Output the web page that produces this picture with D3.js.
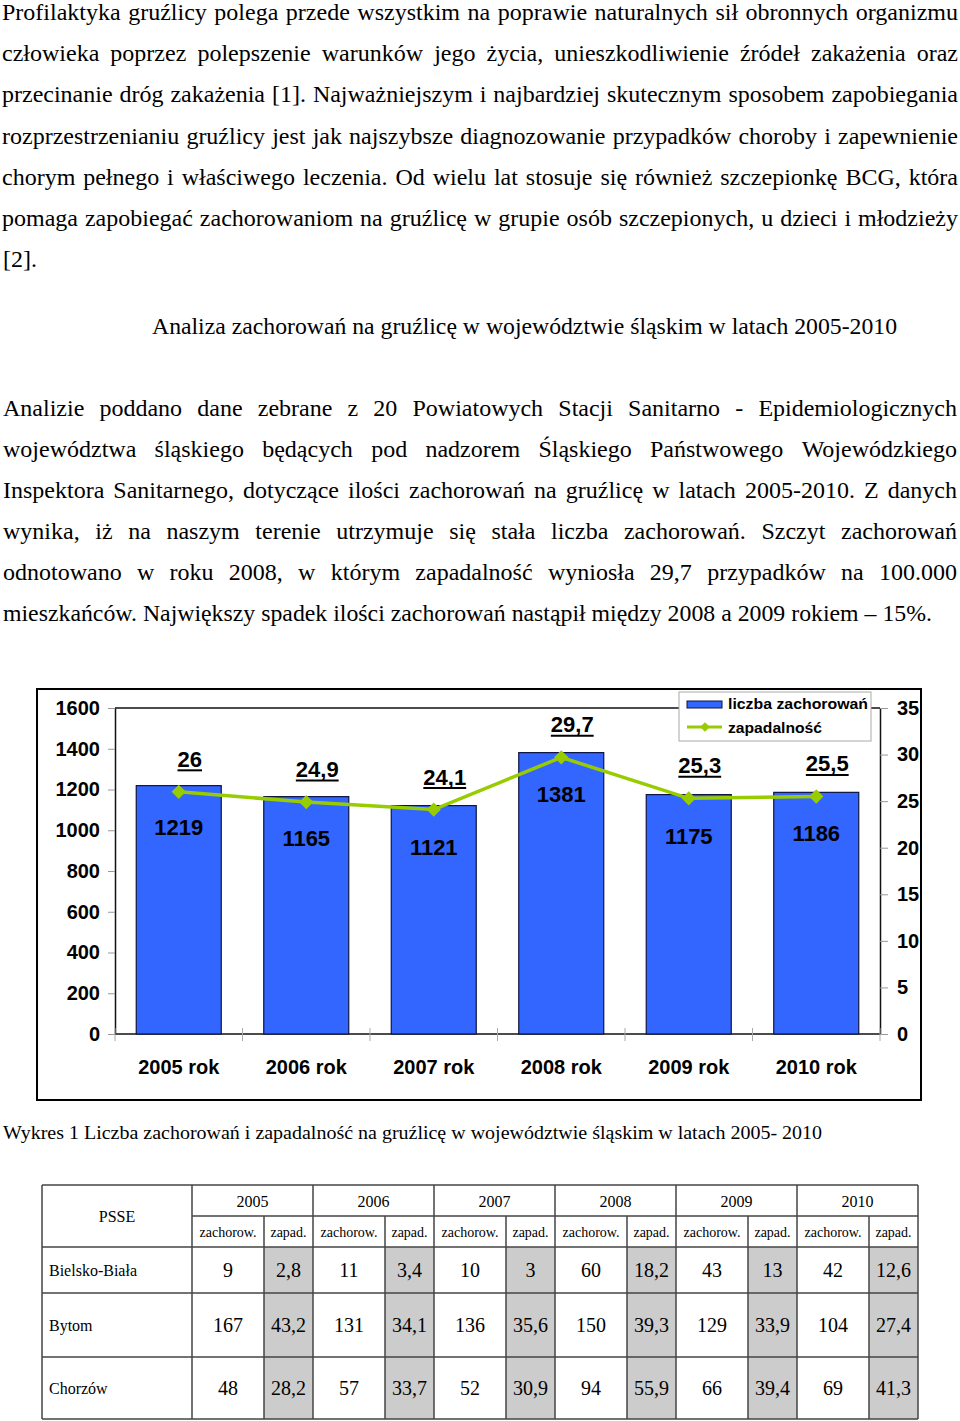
<!DOCTYPE html>
<html>
<head>
<meta charset="utf-8">
<script src="https://cdn.jsdelivr.net/npm/d3@7"></script>
<style>
  html, body { margin: 0; padding: 0; background: #fff; }
  svg { display: block; }
</style>
</head>
<body>
<svg id="page" width="960" height="1421"></svg>
<script>
// ---------------- DATA ----------------
const paragraph1 = [
  "Profilaktyka gruźlicy polega przede wszystkim na poprawie naturalnych sił obronnych organizmu",
  "człowieka poprzez polepszenie warunków jego życia, unieszkodliwienie źródeł zakażenia oraz",
  "przecinanie dróg zakażenia [1]. Najważniejszym i najbardziej skutecznym sposobem zapobiegania",
  "rozprzestrzenianiu gruźlicy jest jak najszybsze diagnozowanie przypadków choroby i zapewnienie",
  "chorym pełnego i właściwego leczenia. Od wielu lat stosuje się również szczepionkę BCG, która",
  "pomaga zapobiegać zachorowaniom na gruźlicę w grupie osób szczepionych, u dzieci i młodzieży"
];
const paragraph1Last = "[2].";
const sectionTitle = "Analiza zachorowań na gruźlicę w województwie śląskim w latach 2005-2010";
const paragraph2 = [
  "Analizie poddano dane zebrane z 20 Powiatowych Stacji Sanitarno - Epidemiologicznych",
  "województwa śląskiego będących pod nadzorem Śląskiego Państwowego Wojewódzkiego",
  "Inspektora Sanitarnego, dotyczące ilości zachorowań na gruźlicę w latach 2005-2010. Z danych",
  "wynika, iż na naszym terenie utrzymuje się stała liczba zachorowań. Szczyt zachorowań",
  "odnotowano w roku 2008, w którym zapadalność wyniosła 29,7 przypadków na 100.000"
];
const paragraph2Last = "mieszkańców. Największy spadek ilości zachorowań nastąpił między 2008 a 2009 rokiem – 15%.";
const chartCaption = "Wykres 1 Liczba zachorowań i zapadalność  na gruźlicę w województwie śląskim w latach 2005- 2010";

const categories = ["2005 rok", "2006 rok", "2007 rok", "2008 rok", "2009 rok", "2010 rok"];
const cases = [1219, 1165, 1121, 1381, 1175, 1186];          // liczba zachorowań
const incidence = [26, 24.9, 24.1, 29.7, 25.3, 25.5];         // zapadalność
const leftTicks = [0, 200, 400, 600, 800, 1000, 1200, 1400, 1600];
const rightTicks = [0, 5, 10, 15, 20, 25, 30, 35];
const legendLabels = ["liczba zachorowań", "zapadalność"];

const tableYears = ["2005", "2006", "2007", "2008", "2009", "2010"];
const tableSubHeaders = ["zachorow.", "zapad."];
const tableCorner = "PSSE";
const psse = ["Bielsko-Biała", "Bytom", "Chorzów"];
const tableCases = [
  [9, 11, 10, 60, 43, 42],
  [167, 131, 136, 150, 129, 104],
  [48, 57, 52, 94, 66, 69]
];
const tableIncidence = [
  [2.8, 3.4, 3, 18.2, 13, 12.6],
  [43.2, 34.1, 35.6, 39.3, 33.9, 27.4],
  [28.2, 33.7, 30.9, 55.9, 39.4, 41.3]
];

// ---------------- HELPERS ----------------
const SERIF = "'Liberation Serif', 'Times New Roman', Times, serif";
const SANS = "'Liberation Sans', Arial, Helvetica, sans-serif";
const fmt = v => String(v).replace(".", ",");

const svg = d3.select("#page");

function justifyLine(g, str, x0, x1, y, size) {
  const words = str.split(/\s+/);
  const nodes = words.map(w => g.append("text")
    .attr("font-family", SERIF).attr("font-size", size)
    .attr("y", y).attr("fill", "#000").text(w));
  const widths = nodes.map(n => n.node().getComputedTextLength());
  const total = d3.sum(widths);
  const W = x1 - x0;
  const minGap = size * 0.2;
  let scale = 1;
  if (total + minGap * (words.length - 1) > W) scale = (W - minGap * (words.length - 1)) / total;
  const gap = (W - total * scale) / (words.length - 1);
  let x = x0;
  nodes.forEach((n, i) => {
    n.attr("x", x);
    if (scale !== 1) n.attr("textLength", widths[i] * scale).attr("lengthAdjust", "spacingAndGlyphs");
    x += widths[i] * scale + gap;
  });
}

function fitText(g, str, x, y, size, len, anchor) {
  const t = g.append("text")
    .attr("font-family", SERIF).attr("font-size", size)
    .attr("x", x).attr("y", y).attr("fill", "#000")
    .attr("text-anchor", anchor || "start").text(str);
  if (len) t.attr("textLength", len).attr("lengthAdjust", "spacingAndGlyphs");
  return t;
}

// ---------------- TEXT ----------------
const textG = svg.append("g");
paragraph1.forEach((line, i) => justifyLine(textG, line, 2, 958, 20 + 41.2 * i, 24));
fitText(textG, paragraph1Last, 3, 20 + 41.2 * 6, 24);
fitText(textG, sectionTitle, 152, 334, 24, 745);
paragraph2.forEach((line, i) => justifyLine(textG, line, 3, 957, 416 + 41 * i, 24));
fitText(textG, paragraph2Last, 3, 416 + 41 * 5, 24, 929);
fitText(textG, chartCaption, 3, 1139, 18.5, 819);

// ---------------- CHART ----------------
const chart = svg.append("g");
const plotL = 115, plotR = 880, plotT = 708, plotB = 1034;

chart.append("rect")
  .attr("x", 37).attr("y", 689).attr("width", 884).attr("height", 411)
  .attr("fill", "#fff").attr("stroke", "#000").attr("stroke-width", 2);

const x = d3.scaleBand().domain(categories).range([plotL, plotR])
  .paddingInner(1 / 3).paddingOuter(1 / 6);
const yL = d3.scaleLinear().domain([0, 1600]).range([plotB, plotT]);
const yR = d3.scaleLinear().domain([0, 35]).range([plotB, plotT]);

// plot frame (top)
chart.append("line").attr("x1", plotL).attr("x2", plotR)
  .attr("y1", plotT).attr("y2", plotT).attr("stroke", "#111").attr("stroke-width", 1.5);

// left axis
const axL = chart.append("g").attr("transform", `translate(${plotL},0)`)
  .call(d3.axisLeft(yL).tickValues(leftTicks).tickFormat(d => String(d))
    .tickSize(7).tickPadding(8).tickSizeOuter(0));
axL.select(".domain").attr("stroke", "#111").attr("stroke-width", 1.5);
axL.selectAll(".tick line").attr("stroke", "#999");
axL.selectAll(".tick text").attr("font-family", SANS).attr("font-weight", "bold")
  .attr("font-size", 20).attr("fill", "#000");

// right axis
const axR = chart.append("g").attr("transform", `translate(${plotR},0)`)
  .call(d3.axisRight(yR).tickValues(rightTicks).tickFormat(d => String(d))
    .tickSize(8).tickPadding(9).tickSizeOuter(0));
axR.select(".domain").attr("stroke", "#111").attr("stroke-width", 1.5);
axR.selectAll(".tick line").attr("stroke", "#999");
axR.selectAll(".tick text").attr("font-family", SANS).attr("font-weight", "bold")
  .attr("font-size", 20).attr("fill", "#000");

// bottom axis line + category boundary ticks
chart.append("line").attr("x1", plotL).attr("x2", plotR)
  .attr("y1", plotB).attr("y2", plotB).attr("stroke", "#111").attr("stroke-width", 1.5);
const half = (x.step() - x.bandwidth()) / 2;
const bounds = categories.map(c => x(c) - half).concat([x(categories[categories.length - 1]) + x.bandwidth() + half]);
chart.selectAll(".xb").data(bounds).enter().append("line")
  .attr("x1", d => d).attr("x2", d => d)
  .attr("y1", plotB - 6).attr("y2", plotB + 7)
  .attr("stroke", "#aaa").attr("stroke-width", 1);

chart.selectAll(".cat").data(categories).enter().append("text")
  .attr("x", d => x(d) + x.bandwidth() / 2).attr("y", 1074)
  .attr("text-anchor", "middle").attr("font-family", SANS).attr("font-weight", "bold")
  .attr("font-size", 20).attr("fill", "#000").text(d => d);

// bars
chart.selectAll(".bar").data(cases).enter().append("rect")
  .attr("x", (d, i) => x(categories[i]))
  .attr("y", d => yL(d))
  .attr("width", x.bandwidth())
  .attr("height", d => yL(0) - yL(d))
  .attr("fill", "#3366FF").attr("stroke", "#0d1440").attr("stroke-width", 1.2);

chart.selectAll(".barlab").data(cases).enter().append("text")
  .attr("x", (d, i) => x(categories[i]) + x.bandwidth() / 2)
  .attr("y", d => yL(d) + 49)
  .attr("text-anchor", "middle").attr("font-family", SANS).attr("font-weight", "bold")
  .attr("font-size", 22).attr("fill", "#000").text(d => d);

// line
const cx = i => x(categories[i]) + x.bandwidth() / 2;
const lineGen = d3.line().x((d, i) => cx(i)).y(d => yR(d));
chart.append("path").datum(incidence).attr("d", lineGen)
  .attr("fill", "none").attr("stroke", "#99CC00").attr("stroke-width", 3.5);
const diamond = d3.symbol().type(d3.symbolDiamond2).size(130);
chart.selectAll(".mk").data(incidence).enter().append("path")
  .attr("d", diamond)
  .attr("transform", (d, i) => `translate(${cx(i)},${yR(d)})`)
  .attr("fill", "#99CC00");

const labG = chart.selectAll(".inc").data(incidence).enter().append("g");
labG.each(function (d, i) {
  const g = d3.select(this);
  const tx = cx(i) + 11, ty = yR(d) - 25;
  const t = g.append("text").attr("x", tx).attr("y", ty)
    .attr("text-anchor", "middle").attr("font-family", SANS).attr("font-weight", "bold")
    .attr("font-size", 22).attr("fill", "#000").text(fmt(d));
  const w = t.node().getComputedTextLength();
  g.append("line").attr("x1", tx - w / 2).attr("x2", tx + w / 2)
    .attr("y1", ty + 3.5).attr("y2", ty + 3.5).attr("stroke", "#000").attr("stroke-width", 2);
});

// legend
const lg = chart.append("g");
lg.append("rect").attr("x", 679).attr("y", 692).attr("width", 192).attr("height", 49)
  .attr("fill", "#fff").attr("stroke", "#aaa").attr("stroke-width", 1);
lg.append("rect").attr("x", 687).attr("y", 701).attr("width", 35).attr("height", 7)
  .attr("fill", "#3366FF").attr("stroke", "#0d1440").attr("stroke-width", 1);
lg.append("line").attr("x1", 687).attr("x2", 722).attr("y1", 727).attr("y2", 727)
  .attr("stroke", "#99CC00").attr("stroke-width", 3);
lg.append("path").attr("d", d3.symbol().type(d3.symbolDiamond2).size(60))
  .attr("transform", "translate(705,727)").attr("fill", "#99CC00");
const legLens = [140, 94];
legendLabels.forEach((l, i) => {
  lg.append("text").attr("x", 728).attr("y", 709 + 24 * i)
    .attr("font-family", SANS).attr("font-weight", "bold").attr("font-size", 14.5)
    .attr("fill", "#000").attr("textLength", legLens[i]).attr("lengthAdjust", "spacingAndGlyphs")
    .text(l);
});

// ---------------- TABLE ----------------
const tb = svg.append("g");
const tX0 = 42, nameW = 150, caseW = 72, incW = 49;
const rowEdges = [1185, 1216, 1247, 1293, 1357, 1419];
const colEdges = [tX0, tX0 + nameW];
tableYears.forEach(() => {
  const last = colEdges[colEdges.length - 1];
  colEdges.push(last + caseW, last + caseW + incW);
});
const tX1 = colEdges[colEdges.length - 1];
const stroke = "#444";

// shaded incidence cells
psse.forEach((p, r) => {
  tableYears.forEach((yv, c) => {
    tb.append("rect").attr("x", colEdges[2 + 2 * c]).attr("y", rowEdges[2 + r])
      .attr("width", incW).attr("height", rowEdges[3 + r] - rowEdges[2 + r])
      .attr("fill", "#CCCCCC");
  });
});

// grid lines
const hl = (xa, xb, yy) => tb.append("line").attr("x1", xa).attr("x2", xb).attr("y1", yy).attr("y2", yy)
  .attr("stroke", stroke).attr("stroke-width", 1.5);
const vl = (xx, ya, yb) => tb.append("line").attr("x1", xx).attr("x2", xx).attr("y1", ya).attr("y2", yb)
  .attr("stroke", stroke).attr("stroke-width", 1.5);
hl(tX0, tX1, rowEdges[0]);
hl(colEdges[1], tX1, rowEdges[1]);
rowEdges.slice(2).forEach(yy => hl(tX0, tX1, yy));
vl(tX0, rowEdges[0], rowEdges[5]);
vl(tX1, rowEdges[0], rowEdges[5]);
colEdges.slice(1, -1).forEach((xx, k) => {
  const yStart = (k % 2 === 1) ? rowEdges[1] : rowEdges[0];
  vl(xx, yStart, rowEdges[5]);
});

const ttext = (str, xx, yy, size, anchor) => tb.append("text")
  .attr("x", xx).attr("y", yy).attr("font-family", SERIF).attr("font-size", size)
  .attr("text-anchor", anchor || "middle").attr("fill", "#000").text(str);

ttext(tableCorner, (colEdges[0] + colEdges[1]) / 2, (rowEdges[0] + rowEdges[2]) / 2 + 6, 16);
tableYears.forEach((yv, c) => {
  ttext(yv, (colEdges[1 + 2 * c] + colEdges[3 + 2 * c]) / 2, (rowEdges[0] + rowEdges[1]) / 2 + 6, 16);
  ttext(tableSubHeaders[0], (colEdges[1 + 2 * c] + colEdges[2 + 2 * c]) / 2, (rowEdges[1] + rowEdges[2]) / 2 + 5, 14);
  ttext(tableSubHeaders[1], (colEdges[2 + 2 * c] + colEdges[3 + 2 * c]) / 2, (rowEdges[1] + rowEdges[2]) / 2 + 5, 14);
});
psse.forEach((p, r) => {
  const cy = (rowEdges[2 + r] + rowEdges[3 + r]) / 2;
  ttext(p, tX0 + 7, cy + 5.5, 16, "start");
  tableYears.forEach((yv, c) => {
    ttext(tableCases[r][c], (colEdges[1 + 2 * c] + colEdges[2 + 2 * c]) / 2, cy + 7, 20);
    ttext(fmt(tableIncidence[r][c]), (colEdges[2 + 2 * c] + colEdges[3 + 2 * c]) / 2, cy + 7, 20);
  });
});
</script>
</body>
</html>
